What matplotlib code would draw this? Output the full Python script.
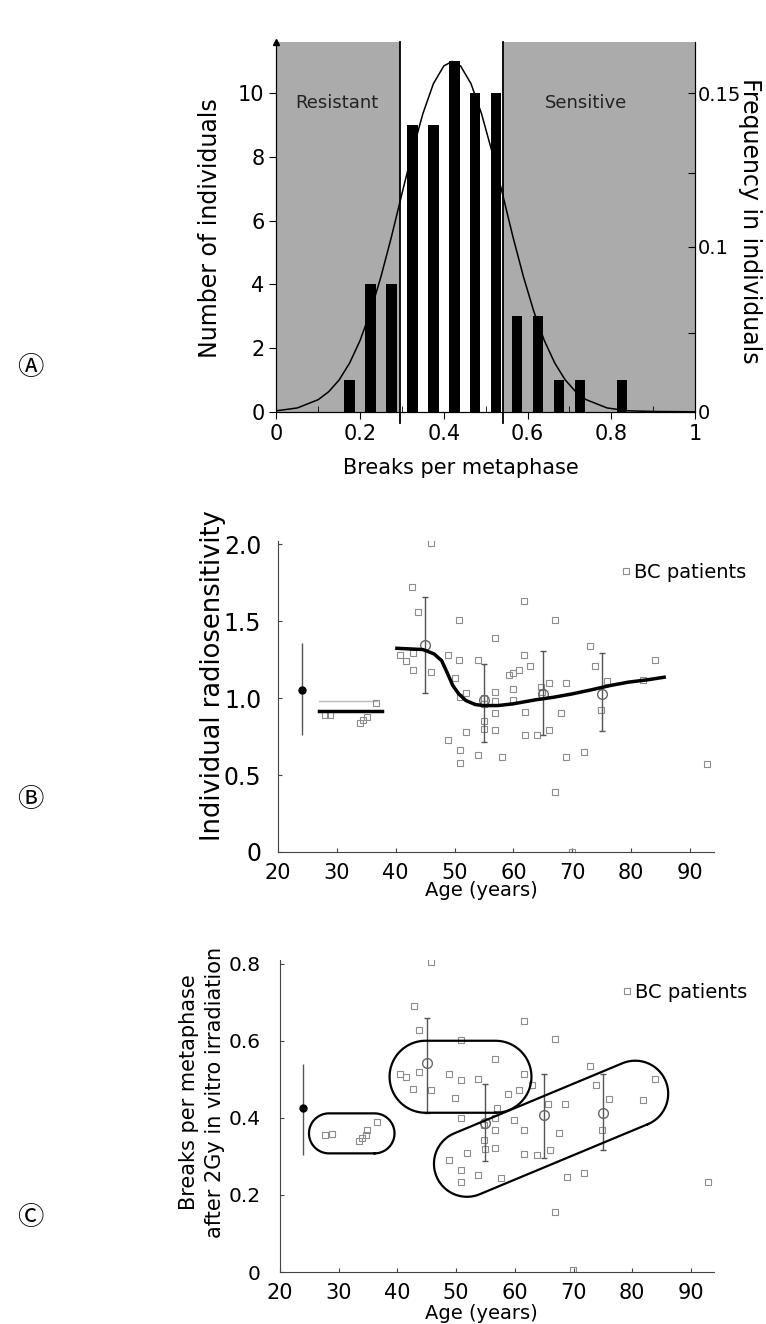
import numpy as np
import matplotlib
matplotlib.use('Agg')
import matplotlib.pyplot as plt

plt.rcParams['font.family'] = ['DejaVu Sans', 'Noto Sans CJK SC']

# Panel A: histogram of breaks per metaphase
a_bins = [0.175, 0.225, 0.275, 0.325, 0.375, 0.425, 0.475, 0.525, 0.575, 0.625, 0.675, 0.725, 0.825]
a_counts = [1, 4, 4, 9, 9, 11, 10, 10, 3, 3, 1, 1, 1]
curve_x = [0.0, 0.05, 0.1, 0.125, 0.15, 0.175, 0.2, 0.225, 0.25, 0.275, 0.3, 0.325, 0.35, 0.375,
           0.4, 0.42, 0.44, 0.465, 0.49, 0.515, 0.54, 0.565, 0.59, 0.615, 0.64, 0.665, 0.69,
           0.715, 0.74, 0.79, 0.84, 0.9, 1.0]
curve_y = [0.03, 0.12, 0.38, 0.63, 1.0, 1.53, 2.24, 3.15, 4.25, 5.5, 6.85, 8.17, 9.36, 10.3,
           10.86, 11.0, 10.86, 10.3, 9.36, 8.17, 6.85, 5.5, 4.25, 3.15, 2.24, 1.53, 1.0,
           0.63, 0.38, 0.12, 0.03, 0.01, 0.0]
res_cut = 0.296
sens_cut = 0.542
freq_ticks = [0, 2.46, 5.18, 7.49, 10.0]
freq_labels = ['0', '', '0.1', '', '0.15']

# Panel B: individual radiosensitivity vs age
b_age = [28.0, 28.9, 34.0, 34.5, 35.1, 36.7, 40.8, 41.8, 43.0, 42.8, 43.8, 43.0, 46.0, 46.0,
         48.8, 50.0, 50.7, 50.7, 48.8, 51.0, 50.9, 51.9, 51.9, 51.0, 54.0, 54.0, 55.0, 55.0,
         55.0, 55.0, 56.9, 56.9, 56.9, 56.9, 56.9, 58.0, 59.2, 59.9, 60.0, 60.0, 61.0, 61.8,
         61.8, 61.9, 61.9, 62.8, 64.0, 64.6, 64.9, 66.0, 66.0, 67.0, 67.0, 68.0, 69.0, 69.0,
         70.0, 71.9, 73.0, 73.9, 74.9, 75.9, 82.0, 84.0, 92.9]
b_rs = [0.89, 0.89, 0.84, 0.855, 0.875, 0.97, 1.28, 1.24, 1.29, 1.72, 1.56, 1.18, 1.17, 2.01,
        1.28, 1.13, 1.25, 1.51, 0.73, 0.66, 0.58, 0.78, 1.03, 1.005, 1.25, 0.63, 1.0, 0.96,
        0.85, 0.80, 1.39, 1.04, 0.98, 0.90, 0.79, 0.62, 1.15, 1.16, 1.06, 0.99, 1.18, 1.63,
        1.28, 0.91, 0.76, 1.21, 0.76, 1.07, 1.04, 1.10, 0.79, 1.51, 0.39, 0.90, 1.10, 0.62,
        0.0, 0.65, 1.34, 1.21, 0.92, 1.11, 1.12, 1.25, 0.57]
group_age = [45, 55, 65, 75]
b_mean = [1.347, 0.988, 1.027, 1.027]
b_lo = [1.031, 0.714, 0.757, 0.785]
b_hi = [1.654, 1.222, 1.304, 1.29]
ref_age = 24
b_ref = [1.053, 0.757, 1.36]  # mean, low, high
young_fit_x = [26.9, 37.6]
young_fit_y = [0.913, 0.913]
young_ref_x = [27.0, 36.8]
young_ref_y = [0.979, 0.979]
fit_x = [40.2, 44.6, 46.5, 47.8, 48.7, 49.7, 50.7, 51.9, 53.5, 54.8, 57.3, 59.9, 63.7,
         66.8, 70.0, 73.2, 76.4, 79.5, 82.7, 85.6]
fit_y = [1.323, 1.315, 1.287, 1.243, 1.168, 1.081, 1.027, 0.984, 0.958, 0.951, 0.951, 0.962,
         0.988, 1.005, 1.027, 1.053, 1.081, 1.103, 1.118, 1.135]

# Panel C: breaks per metaphase after 2Gy vs age
c_age = [27.6, 28.9, 33.5, 33.9, 34.6, 34.9, 36.5, 40.4, 41.4, 42.7, 42.9, 43.7, 43.7, 45.8,
         45.8, 48.8, 48.8, 49.8, 50.8, 50.8, 50.8, 50.8, 50.8, 51.8, 53.7, 53.7, 54.7, 54.7,
         54.9, 56.6, 56.6, 56.6, 56.6, 57.0, 57.7, 58.9, 59.9, 60.7, 61.6, 61.6, 61.6, 61.6,
         62.9, 63.7, 65.7, 66.0, 66.8, 66.8, 67.6, 68.6, 68.9, 69.9, 71.7, 72.8, 73.8, 74.9,
         76.1, 81.8, 83.8, 92.9]
c_bpm = [0.356, 0.358, 0.341, 0.347, 0.356, 0.368, 0.39, 0.513, 0.507, 0.474, 0.69, 0.629,
         0.52, 0.804, 0.472, 0.513, 0.291, 0.452, 0.602, 0.498, 0.399, 0.265, 0.235, 0.31,
         0.50, 0.252, 0.381, 0.344, 0.32, 0.554, 0.399, 0.368, 0.321, 0.425, 0.243, 0.462,
         0.396, 0.472, 0.653, 0.513, 0.368, 0.306, 0.485, 0.304, 0.436, 0.317, 0.606, 0.157,
         0.362, 0.437, 0.248, 0.006, 0.258, 0.534, 0.485, 0.37, 0.448, 0.446, 0.502, 0.235]
c_mean = [0.543, 0.387, 0.407, 0.413]
c_lo = [0.413, 0.287, 0.295, 0.317]
c_hi = [0.66, 0.488, 0.513, 0.513]
c_ref = [0.425, 0.304, 0.541]
# grouping outlines: (cap centre 1, cap centre 2, radius in px)
groups = [((28.35, 0.36), (36.1, 0.36), 20),
          ((44.8, 0.507), (56.7, 0.507), 36),
          ((51.85, 0.281), (80.5, 0.463), 33)]

PT_COL = '#8c8c8c'
BAR_COL = '#555555'
SPINE_COL = '#444444'

fig = plt.figure(figsize=(7.66, 13.24), dpi=100)


def stadium(ax, p1, p2, r):
    (x1, y1), (x2, y2) = ax.transData.transform([p1, p2])
    ang = np.arctan2(y2 - y1, x2 - x1)
    t1 = np.linspace(ang - np.pi / 2, ang + np.pi / 2, 60)
    t2 = np.linspace(ang + np.pi / 2, ang + 3 * np.pi / 2, 60)
    xs = np.concatenate([x2 + r * np.cos(t1), x1 + r * np.cos(t2), [x2 + r * np.cos(t1[0])]])
    ys = np.concatenate([y2 + r * np.sin(t1), y1 + r * np.sin(t2), [y2 + r * np.sin(t1[0])]])
    pts = ax.transData.inverted().transform(np.column_stack([xs, ys]))
    ax.plot(pts[:, 0], pts[:, 1], color='k', lw=1.6, zorder=4)


def age_panel(ax, ymax):
    for s in ['top', 'right']:
        ax.spines[s].set_visible(False)
    for s in ['left', 'bottom']:
        ax.spines[s].set_color(SPINE_COL)
    ax.set_xlim(20, 94)
    ax.set_ylim(0, ymax)
    ax.set_xticks(range(20, 100, 10))
    ax.tick_params(direction='in', length=3, labelsize=15, color=SPINE_COL)
    ax.tick_params(axis='x', pad=8)
    ax.set_xlabel('Age (years)', fontsize=14)


# ---- Panel A ----
axA = fig.add_axes([0.3608, 0.689, 0.5465, 0.2795])
axA.axvspan(0, res_cut, color='#ababab', lw=0, zorder=0)
axA.axvspan(sens_cut, 1, color='#ababab', lw=0, zorder=0)
axA.bar(a_bins, a_counts, width=0.025, color='k', zorder=2)
axA.plot(curve_x, curve_y, color='k', lw=1.1, zorder=3)
for c in [res_cut, sens_cut]:
    axA.axvline(c, ymin=-0.03, ymax=1, color='k', lw=1.3, clip_on=False, zorder=3)
axA.set_xlim(0, 1)
axA.set_ylim(0, 11.62)
axA.set_xticks([0, 0.2, 0.4, 0.6, 0.8, 1])
axA.set_xticklabels(['0', '0.2', '0.4', '0.6', '0.8', '1'])
axA.set_xticks([0.1, 0.3, 0.5, 0.7, 0.9], minor=True)
axA.set_yticks(range(0, 12, 2))
axA.tick_params(which='major', direction='out', length=5, labelsize=15)
axA.tick_params(which='minor', direction='in', length=4)
axA.spines['top'].set_visible(False)
axA.text(0.145, 9.7, 'Resistant', fontsize=13, ha='center', va='center', color='#222222')
axA.text(0.74, 9.7, 'Sensitive', fontsize=13, ha='center', va='center', color='#222222')
axA.plot(0, 1, '^', color='k', ms=4, transform=axA.transAxes, clip_on=False)
axA.set_ylabel('Number of individuals', fontsize=17)
axA.yaxis.set_label_coords(-0.129, 0.496)
axA.set_xlabel('Breaks per metaphase', fontsize=15)
axA.xaxis.set_label_coords(0.44, -0.124)

axA2 = axA.twinx()
axA2.set_ylim(axA.get_ylim())
axA2.set_yticks(freq_ticks)
axA2.set_yticklabels(freq_labels)
axA2.tick_params(direction='in', length=5, labelsize=14, pad=2)
axA2.spines['top'].set_visible(False)
axA2.set_ylabel('Frequency in individuals', fontsize=17, rotation=-90, va='center')
axA2.yaxis.set_label_coords(1.131, 0.515)

# ---- Panel B ----
axB = fig.add_axes([0.3629, 0.3565, 0.5687, 0.2349])
age_panel(axB, 2.02)
axB.set_yticks([0, 0.5, 1.0, 1.5, 2.0])
axB.set_yticklabels(['0', '0.5', '1.0', '1.5', '2.0'])
axB.tick_params(axis='y', labelsize=17, pad=12)
axB.plot(b_age, b_rs, 's', mfc='none', mec=PT_COL, ms=4, mew=0.8, zorder=2,
         label='BC patients')
axB.errorbar(group_age, b_mean,
             yerr=[np.subtract(b_mean, b_lo), np.subtract(b_hi, b_mean)],
             fmt='o', mfc='none', mec='#666666', ms=7, ecolor=BAR_COL, elinewidth=1,
             capsize=2, zorder=3)
axB.errorbar([ref_age], [b_ref[0]], yerr=[[b_ref[0] - b_ref[1]], [b_ref[2] - b_ref[0]]],
             fmt='o', color='k', ms=5, ecolor=BAR_COL, elinewidth=1, zorder=3)
axB.plot(young_ref_x, young_ref_y, color='#bbbbbb', lw=1, zorder=1)
axB.plot(young_fit_x, young_fit_y, color='k', lw=2.5, zorder=4)
axB.plot(fit_x, fit_y, color='k', lw=2.5, zorder=4)
axB.set_ylabel('Individual radiosensitivity', fontsize=18.5)
axB.yaxis.set_label_coords(-0.119, 0.566)
axB.xaxis.set_label_coords(0.468, -0.093)
axB.legend(loc='center right', bbox_to_anchor=(1.075, 0.90), frameon=False, fontsize=14,
           handlelength=0.4, handletextpad=0.2, borderaxespad=0, borderpad=0)

# ---- Panel C ----
axC = fig.add_axes([0.3655, 0.03927, 0.5672, 0.2356])
age_panel(axC, 0.81)
axC.set_yticks([0, 0.2, 0.4, 0.6, 0.8])
axC.set_yticklabels(['0', '0.2', '0.4', '0.6', '0.8'])
axC.tick_params(axis='y', labelsize=14.5, pad=14)
axC.plot(c_age, c_bpm, 's', mfc='none', mec=PT_COL, ms=4, mew=0.8, zorder=2,
         label='BC patients')
axC.errorbar(group_age, c_mean,
             yerr=[np.subtract(c_mean, c_lo), np.subtract(c_hi, c_mean)],
             fmt='o', mfc='none', mec='#666666', ms=7, ecolor=BAR_COL, elinewidth=1,
             capsize=2, zorder=3)
axC.errorbar([ref_age], [c_ref[0]], yerr=[[c_ref[0] - c_ref[1]], [c_ref[2] - c_ref[0]]],
             fmt='o', color='k', ms=5, ecolor=BAR_COL, elinewidth=1, zorder=3)
for p1, p2, r in groups:
    stadium(axC, p1, p2, r)
axC.set_ylabel('Breaks per metaphase\nafter 2Gy in vitro irradiation', fontsize=15,
               linespacing=1.35)
axC.yaxis.set_label_coords(-0.127, 0.577)
axC.xaxis.set_label_coords(0.463, -0.103)
axC.legend(loc='center right', bbox_to_anchor=(1.075, 0.897), frameon=False, fontsize=14,
           handlelength=0.4, handletextpad=0.2, borderaxespad=0, borderpad=0)

# panel letters
for letter, ypix in [('\u24b6', 368), ('\u24b7', 800), ('\u24b8', 1218)]:
    fig.text(30 / 766, 1 - ypix / 1324, letter, fontsize=19, ha='center', va='center')

fig.savefig('out.png', dpi=100)
